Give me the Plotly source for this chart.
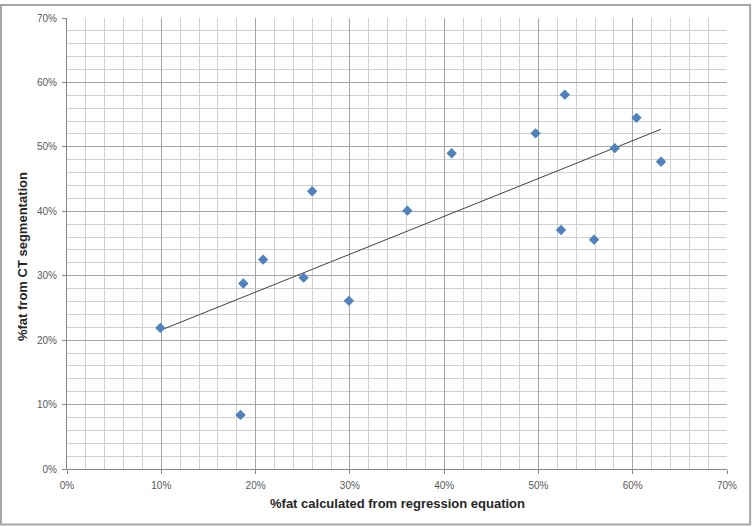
import numpy as np
import plotly.graph_objects as go

# Data (fractions)
x_regression = [0.099, 0.184, 0.187, 0.208, 0.251, 0.260, 0.299, 0.361, 0.408,
                0.497, 0.528, 0.524, 0.559, 0.581, 0.604, 0.630]
y_ct = [0.219, 0.084, 0.288, 0.325, 0.297, 0.431, 0.261, 0.401, 0.490,
        0.521, 0.581, 0.371, 0.356, 0.498, 0.545, 0.477]

x_title = "%fat calculated from regression equation"
y_title = "%fat from CT segmentation"

slope, intercept = np.polyfit(x_regression, y_ct, 1)
x_fit = [min(x_regression), max(x_regression)]
y_fit = [slope * v + intercept for v in x_fit]

fig = go.Figure()
fig.add_trace(go.Scatter(x=x_fit, y=y_fit, mode="lines",
                         line=dict(color="#404040", width=1), hoverinfo="skip",
                         showlegend=False))
fig.add_trace(go.Scatter(x=x_regression, y=y_ct, mode="markers",
                         marker=dict(symbol="diamond", size=8, color="#4F81BD"),
                         showlegend=False))

axis_common = dict(
    tickformat=".0%", dtick=0.1, tick0=0,
    showgrid=True, gridcolor="#a6a6a6", gridwidth=1,
    minor=dict(dtick=0.02, showgrid=True, gridcolor="#d0d0d0", gridwidth=1),
    showline=True, linecolor="#868686", linewidth=1,
    ticks="outside", ticklen=4, tickcolor="#868686",
    tickfont=dict(family="Liberation Sans, Arial", size=10, color="#595959"),
    zeroline=False, fixedrange=True,
)

fig.update_xaxes(range=[0, 0.7], ticklabelstandoff=3, **axis_common)
fig.update_yaxes(range=[0, 0.7], ticklabelstandoff=3, **axis_common)

fig.update_layout(
    width=753, height=527,
    margin=dict(l=67, r=26, t=14, b=58),
    plot_bgcolor="white", paper_bgcolor="white",
    annotations=[
        dict(text="<b>" + x_title + "</b>", xref="paper", yref="paper",
             x=0.5, y=0, yshift=-34, showarrow=False, xanchor="center",
             yanchor="middle",
             font=dict(family="Liberation Sans, Arial", size=13, color="#262626")),
        dict(text="<b>" + y_title + "</b>", xref="paper", yref="paper",
             x=0, y=0.47, xshift=-45, showarrow=False, textangle=-90,
             xanchor="center", yanchor="middle",
             font=dict(family="Liberation Sans, Arial", size=13, color="#262626")),
    ],
    shapes=[dict(type="rect", xref="paper", yref="paper", x0=-0.1, x1=1.035,
                 y0=-0.123, y1=1.0286, line=dict(color="#a6a6a6", width=2))],
)

fig.write_html("out.html", config={"displayModeBar": False},
               post_script="document.body.style.margin='0';document.body.style.padding='0';")
